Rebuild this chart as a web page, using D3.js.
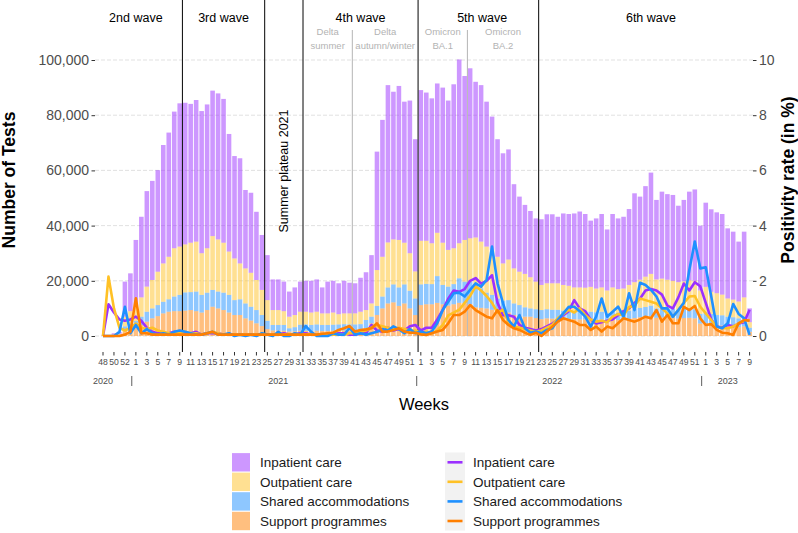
<!DOCTYPE html>
<html>
<head>
<meta charset="utf-8">
<script src="https://cdn.jsdelivr.net/npm/d3@7/dist/d3.min.js"></script>
<style>
  body { margin: 0; background: #fff; }
  svg text { font-family: "Liberation Sans", Arial, Helvetica, sans-serif; }
</style>
</head>
<body>
<svg id="chart" width="798" height="533"></svg>
<script>

// calendar weeks shown on the x axis (2020 w48 -> 2023 w9)
var weeks = [48,49,50,51,52,53,
  1,2,3,4,5,6,7,8,9,10,11,12,13,14,15,16,17,18,19,20,21,22,23,24,25,26,27,28,29,30,31,32,33,34,35,36,37,38,39,40,41,42,43,44,45,46,47,48,49,50,51,52,
  1,2,3,4,5,6,7,8,9,10,11,12,13,14,15,16,17,18,19,20,21,22,23,24,25,26,27,28,29,30,31,32,33,34,35,36,37,38,39,40,41,42,43,44,45,46,47,48,49,50,51,52,
  1,2,3,4,5,6,7,8,9];

var years = ['2020', '2021', '2022', '2023'];
var yearLabelWeek = [0, 32, 82, 114];     // week index the year label sits on
var yearBreaks = [5.25, 57.25, 109.25];    // between last week of a year and first of next

// number of tests (in thousands), per setting
var support = [0,0,0.2,0.3,2.0,2.5,3.0,4.0,5.2,6.4,7.2,8.2,8.8,9.0,9.0,9.2,9.4,9.0,8.5,9.4,10.6,10.0,9.4,8.5,7.6,7.6,6.4,5.6,4.6,3.6,
  2.5,2.0,2.0,1.9,1.6,1.7,1.9,1.9,1.8,1.9,1.8,1.8,1.9,1.9,2.0,2.0,2.0,2.1,2.8,4.6,7.6,10.0,11.8,12.2,10.9,11.8,10.0,7.6,
  11.2,11.5,11.5,12.0,11.5,11.0,11.5,12.0,11.8,11.5,10.4,10.2,10.0,9.5,8.8,8.2,8.5,7.6,7.3,7.0,7.0,6.5,6.1,6.4,6.3,6.3,6.2,6.1,6.1,6.0,
  6.0,5.8,5.8,6.0,5.5,6.0,5.8,5.9,6.2,6.5,6.8,7.0,7.2,6.6,6.8,6.7,6.5,6.3,6.5,6.6,6.4,4.5,4.5,4.2,4.0,3.8,3.5,3.4,3.2,3.5,1.5];
var shared = [0,0,0.1,0.2,1.5,2.0,2.5,3.0,3.6,3.6,4.0,4.2,4.5,5.3,5.9,6.6,6.5,7.1,6.4,6.3,6.1,6.1,6.3,6.4,5.4,5.7,5.4,5.0,4.8,4.0,
  3.0,2.0,2.0,2.1,1.2,1.5,2.2,2.3,2.2,2.3,2.2,2.2,2.2,2.3,2.3,2.2,2.2,2.2,3.0,2.4,3.3,4.3,5.8,6.5,6.7,6.9,6.4,6.0,
  7.5,7.4,7.3,9.7,7.0,6.9,7.3,8.9,7.9,8.2,8.1,7.1,5.7,5.4,4.8,4.6,4.5,4.2,3.9,3.4,3.0,3.2,3.3,3.3,3.2,3.2,3.0,3.1,2.9,3.0,
  3.0,3.0,2.8,2.8,2.7,2.8,2.7,2.7,3.0,3.3,3.4,3.5,3.8,3.4,3.4,3.3,3.3,3.2,3.3,3.4,3.3,3.5,4.1,3.8,3.6,3.7,3.5,3.4,3.2,3.5,1.5];
var outpatient = [0,0,0.2,0.3,3.5,4.5,5.5,7.0,9.1,10.3,12.1,13.9,15.4,17.5,17.5,17.4,17.9,18.1,15.1,16.1,19.5,18.9,18.1,15.7,15.1,13.0,12.7,12.3,10.9,9.1,
  7.5,5.4,5.4,5.0,4.2,4.4,4.7,4.6,4.5,4.6,4.2,4.2,4.4,3.7,3.9,4.0,4.0,4.5,3.6,4.8,13.0,14.4,16.3,16.3,17.2,15.1,13.6,9.8,
  15.8,15.6,14.8,15.7,15.3,13.3,13.0,12.7,15.1,15.7,17.2,16.9,16.7,16.3,15.1,13.5,14.7,12.7,12.1,12.1,11.3,10.0,9.1,9.4,9.6,9.6,9.3,9.0,8.6,8.6,
  8.5,9.0,8.6,8.8,8.3,8.8,8.5,8.6,9.3,9.7,10.2,11.0,11.5,10.5,10.6,10.4,10.2,10.0,10.0,10.2,10.3,8.5,9.2,8.0,7.9,7.5,6.6,6.4,6.1,7.0,2.0];
var inpatient = [0,0,0.5,0.7,12.7,13.7,23.8,29.2,34.6,35.9,36.8,42.9,45.0,49.5,51.9,51.3,50.3,51.3,51.5,52.1,52.7,52.9,52.1,42.6,37.1,38.1,28.4,29.0,24.7,19.9,
  16.3,11.1,11.1,10.7,9.1,10.0,10.9,11.2,11.5,11.7,9.4,11.5,11.5,11.2,11.8,11.1,10.9,12.3,13.7,17.5,42.9,49.6,57.0,53.5,55.8,51.1,55.3,47.9,
  54.6,53.7,52.5,54.1,56.2,54.1,59.4,66.6,59.4,61.6,56.4,56.7,52.5,48.3,42.6,39.9,39.9,30.5,27.2,25.0,24.0,22.9,23.8,25.0,25.0,24.1,25.9,26.0,26.8,27.5,
  26.7,24.0,25.4,26.6,22.1,26.6,25.6,26.0,27.5,32.2,30.1,32.8,36.7,28.8,31.5,31.0,31.1,27.7,29.5,32.1,33.1,23.5,30.5,29.9,29.3,29.2,25.4,24.6,21.7,23.8,5.0];

// positivity rate (in %), per setting
var rateInpatient = [0,1.15,0.85,0.6,0.55,0.6,0.7,0.55,0.3,0.15,0.1,0.1,0.1,0.15,0.1,0.1,0.1,0.15,0.05,0.1,0.1,0.1,0.05,0.05,0.05,0.05,0.05,0.05,0.05,0.05,
  0.05,0.05,0.05,0.1,0.05,0.05,0.1,0.1,0.05,0.05,0.05,0.05,0.05,0.1,0.1,0.05,0.05,0.1,0.1,0.4,0.2,0.15,0.3,0.2,0.25,0.2,0.35,0.4,
  0.2,0.3,0.3,0.6,0.95,1.35,1.65,1.6,1.7,2.0,2.1,1.9,2.0,2.2,1.2,0.75,0.75,0.7,0.4,0.3,0.25,0.2,0.25,0.35,0.45,0.6,0.75,0.9,1.3,1.0,
  0.9,0.6,0.45,0.5,0.55,0.6,0.75,0.9,1.0,1.2,1.35,1.65,1.7,1.65,1.5,1.1,1.0,1.4,1.9,1.65,1.95,1.8,1.2,0.6,0.35,0.3,0.4,0.35,0.45,0.5,0.95];
var rateOutpatient = [0,2.15,1.0,0.3,0.2,0.3,0.45,0.3,0.25,0.3,0.2,0.15,0.1,0.1,0.1,0.15,0.1,0.1,0.05,0.1,0.15,0.1,0.05,0.05,0.05,0.05,0.05,0.05,0.05,0.05,
  0.05,0.05,0.05,0.05,0.05,0.05,0.05,0.05,0.05,0.05,0.05,0.05,0.05,0.05,0.05,0.1,0.1,0.15,0.2,0.3,0.4,0.35,0.3,0.25,0.3,0.25,0.2,0.2,
  0.1,0.15,0.1,0.2,0.4,0.75,0.85,0.95,1.2,1.45,1.8,1.65,1.45,1.2,0.85,0.95,0.5,0.35,0.3,0.25,0.2,0.15,0.2,0.3,0.4,0.65,0.8,0.95,0.85,1.0,
  0.76,0.6,0.52,0.55,0.5,0.7,0.8,0.75,1.05,1.1,1.36,1.3,1.24,1.18,1.0,0.82,0.7,0.94,1.2,1.43,1.45,1.06,0.82,0.58,0.34,0.28,0.28,0.34,0.46,0.55,0.58];
var rateShared = [0,0,0,0.15,1.06,0.1,0.4,0.1,0.25,0.1,0.05,0.1,0.05,0.15,0.2,0.15,0.1,0.05,0.05,0.1,0.15,0.05,0.05,0.1,0,0.05,0,0.05,0,0.1,
  0.05,0,0.15,0,0,0.1,0.05,0.36,0.15,0,0,0,0.1,0.05,0.05,0.3,0.05,0.1,0.05,0.1,0.15,0.25,0.2,0.35,0.25,0.1,0.25,0.1,
  0.16,0.1,0.16,0.46,0.94,1.24,1.55,1.57,1.43,1.67,1.91,1.79,2.03,3.24,1.91,1.18,0.58,0.34,0.76,0.28,0.12,0.16,0.1,0.22,0.28,0.58,0.82,1.06,1.06,0.9,
  0.7,0.34,0.7,1.36,0.7,0.88,1.06,0.7,1.55,0.94,1.93,1.85,1.67,1.43,1.0,1.0,0.7,0.94,1.2,2.39,3.42,2.45,2.49,1.43,0.34,0.28,0.46,1.16,0.8,0.64,0.04];
var rateSupport = [0,0,0,0,0.05,0.15,1.37,0.1,0.1,0.05,0.05,0.05,0.05,0.05,0.05,0.05,0.05,0.05,0.05,0.1,0.15,0.05,0.05,0.05,0.05,0.05,0.05,0.05,0.05,0.05,
  0.05,0.05,0.05,0.05,0.05,0.05,0.05,0.05,0.05,0.05,0.08,0.1,0.12,0.22,0.28,0.36,0.16,0.22,0.24,0.28,0.46,0.16,0.16,0.22,0.28,0.16,0.12,0.12,
  0.06,0.04,0.1,0.16,0.22,0.46,0.76,0.76,0.88,1.12,0.94,0.82,0.7,0.64,0.94,0.58,0.4,0.28,0.22,0.12,0.04,0.12,0,0.16,0.34,0.52,0.64,0.58,0.52,0.4,
  0.4,0.22,0.34,0.16,0.34,0.28,0.46,0.64,0.58,0.52,0.6,0.7,0.64,0.94,0.52,0.76,0.46,0.46,1.06,0.94,1.09,0.64,0.4,0.43,0.22,0.12,0.1,0.04,0.46,0.58,0.55];

var settings = ['Inpatient care', 'Outpatient care', 'Shared accommodations', 'Support programmes'];
var colors = ['#9B30FF', '#FFC125', '#1E90FF', '#FF7F00'];

// pandemic phases
var waveNames = ['2nd wave', '3rd wave', '4th wave', '5th wave', '6th wave'];
var waveCenters = [6, 22, 47, 69.2, 100];
var waveBreaks = [14.5, 29.5, 36.5, 57.5, 79.5];
var variantBreaks = [45.5, 66.5];
var variantNames = [['Delta', 'summer'], ['Delta', 'autumn/winter'], ['Omicron', 'BA.1'], ['Omicron', 'BA.2']];
var variantCenters = [41, 51.5, 62, 73];
var plateauLabel = 'Summer plateau 2021';
var plateauWeek = 33;

var testTicks = [0, 20, 40, 60, 80, 100];
var rateTicks = [0, 2, 4, 6, 8, 10];

var svg = d3.select('#chart');

var x = d3.scaleLinear().domain([0, weeks.length - 1]).range([103, 749.6]);
var step = x(1) - x(0);
var y = d3.scaleLinear().domain([0, 100]).range([336, 60]);
var yRate = d3.scaleLinear().domain([0, 10]).range([336, 60]);
var panelLeft = 95, panelRight = 753;

// grid
svg.append('g')
    .selectAll('line')
    .data(testTicks)
    .enter()
    .append('line')
    .attr('x1', panelLeft)
    .attr('x2', panelRight)
    .attr('y1', function(d){ return y(d); })
    .attr('y2', function(d){ return y(d); })
    .attr('stroke', '#d9d9d9')
    .attr('stroke-width', 0.8)
    .attr('stroke-dasharray', '4,2');

// stacked bars
var rows = weeks.map(function(w, i){
    return {i: i, support: support[i], shared: shared[i], outpatient: outpatient[i], inpatient: inpatient[i]};
});
var keys = ['support', 'shared', 'outpatient', 'inpatient'];
var keyColor = {inpatient: colors[0], outpatient: colors[1], shared: colors[2], support: colors[3]};
var stacked = d3.stack().keys(keys)(rows);

svg.append('g')
    .selectAll('g')
    .data(stacked)
    .enter()
    .append('g')
    .attr('fill', function(s){ return keyColor[s.key]; })
    .attr('fill-opacity', 0.5)
    .selectAll('rect')
    .data(function(s){ return s; })
    .enter()
    .append('rect')
    .attr('x', function(d){ return x(d.data.i) - (step - 0.9) / 2; })
    .attr('width', step - 0.9)
    .attr('y', function(d){ return y(d[1]); })
    .attr('height', function(d){ return Math.max(0, y(d[0]) - y(d[1])); });

// wave separators
svg.append('g')
    .selectAll('line')
    .data(waveBreaks)
    .enter()
    .append('line')
    .attr('x1', function(d){ return x(d); })
    .attr('x2', function(d){ return x(d); })
    .attr('y1', 0)
    .attr('y2', 352)
    .attr('stroke', '#1a1a1a')
    .attr('stroke-width', 1.1);

svg.append('g')
    .selectAll('line')
    .data(variantBreaks)
    .enter()
    .append('line')
    .attr('x1', function(d){ return x(d); })
    .attr('x2', function(d){ return x(d); })
    .attr('y1', 30)
    .attr('y2', 336)
    .attr('stroke', '#b5b5b5')
    .attr('stroke-width', 1);

// positivity lines
var rates = [rateInpatient, rateOutpatient, rateShared, rateSupport];
var line = d3.line()
    .x(function(d, i){ return x(i); })
    .y(function(d){ return yRate(d); });

svg.append('g')
    .selectAll('path')
    .data(rates)
    .enter()
    .append('path')
    .attr('d', line)
    .attr('fill', 'none')
    .attr('stroke', function(d, i){ return colors[i]; })
    .attr('stroke-width', 2.6)
    .attr('stroke-linejoin', 'round');

// wave labels
svg.append('g')
    .selectAll('text')
    .data(waveNames)
    .enter()
    .append('text')
    .attr('x', function(d, i){ return x(waveCenters[i]); })
    .attr('y', 22)
    .attr('text-anchor', 'middle')
    .attr('font-size', 12.5)
    .attr('fill', '#000')
    .text(function(d){ return d; });

var variantText = svg.append('g')
    .selectAll('text')
    .data(variantNames)
    .enter()
    .append('text')
    .attr('text-anchor', 'middle')
    .attr('font-size', 9.5)
    .attr('fill', '#b3b3b3');
variantText.append('tspan')
    .attr('x', function(d, i){ return x(variantCenters[i]); })
    .attr('y', 35)
    .text(function(d){ return d[0]; });
variantText.append('tspan')
    .attr('x', function(d, i){ return x(variantCenters[i]); })
    .attr('y', 49)
    .text(function(d){ return d[1]; });

svg.append('text')
    .attr('transform', 'translate(' + (x(plateauWeek) + 4.5) + ',171) rotate(-90)')
    .attr('text-anchor', 'middle')
    .attr('font-size', 12.5)
    .attr('fill', '#000')
    .text(plateauLabel);

// left axis
var yAxis = d3.axisLeft(y)
    .tickValues(testTicks)
    .tickSize(3.5)
    .tickPadding(2.5)
    .tickFormat(function(d){ return d3.format(',')(d * 1000); });
var gy = svg.append('g').attr('transform', 'translate(' + panelLeft + ',0)').call(yAxis);
gy.select('.domain').remove();
gy.selectAll('line').attr('stroke', '#333');
gy.selectAll('text').attr('font-size', 14).attr('fill', '#4d4d4d').attr('font-family', '"Liberation Sans", Arial, sans-serif');

// right axis
var yAxisR = d3.axisRight(yRate)
    .tickValues(rateTicks)
    .tickSize(3.5)
    .tickPadding(2.5);
var gr = svg.append('g').attr('transform', 'translate(' + panelRight + ',0)').call(yAxisR);
gr.select('.domain').remove();
gr.selectAll('line').attr('stroke', '#333');
gr.selectAll('text').attr('font-size', 14).attr('fill', '#4d4d4d').attr('font-family', '"Liberation Sans", Arial, sans-serif');

// bottom axis: every second week
var xAxis = svg.append('g');
var labelled = weeks.map(function(w, i){ return {w: w, i: i}; }).filter(function(d){ return d.i % 2 === 0; });
xAxis.selectAll('line')
    .data(labelled)
    .enter()
    .append('line')
    .attr('x1', function(d){ return x(d.i); })
    .attr('x2', function(d){ return x(d.i); })
    .attr('y1', 352)
    .attr('y2', 355.5)
    .attr('stroke', '#333')
    .attr('stroke-width', 1);
xAxis.selectAll('text')
    .data(labelled)
    .enter()
    .append('text')
    .attr('x', function(d){ return x(d.i); })
    .attr('y', 365)
    .attr('text-anchor', 'middle')
    .attr('font-size', 8.6)
    .attr('fill', '#4d4d4d')
    .text(function(d){ return d.w; });

svg.append('g')
    .selectAll('text')
    .data(years)
    .enter()
    .append('text')
    .attr('x', function(d, i){ return x(yearLabelWeek[i]); })
    .attr('y', 384)
    .attr('text-anchor', 'middle')
    .attr('font-size', 9)
    .attr('fill', '#4d4d4d')
    .text(function(d){ return d; });

svg.append('g')
    .selectAll('line')
    .data(yearBreaks)
    .enter()
    .append('line')
    .attr('x1', function(d){ return x(d); })
    .attr('x2', function(d){ return x(d); })
    .attr('y1', 376)
    .attr('y2', 386)
    .attr('stroke', '#4d4d4d')
    .attr('stroke-width', 0.9);

// axis titles
svg.append('text')
    .attr('x', 424)
    .attr('y', 410)
    .attr('text-anchor', 'middle')
    .attr('font-size', 16.5)
    .attr('fill', '#000')
    .text('Weeks');

svg.append('text')
    .attr('transform', 'translate(15,180) rotate(-90)')
    .attr('text-anchor', 'middle')
    .attr('font-size', 17.5)
    .attr('font-weight', 'bold')
    .attr('fill', '#000')
    .text('Number of Tests');

svg.append('text')
    .attr('transform', 'translate(794,180) rotate(-90)')
    .attr('text-anchor', 'middle')
    .attr('font-size', 17.5)
    .attr('font-weight', 'bold')
    .attr('fill', '#000')
    .text('Positivity rate (in %)');

// legends
var legendY = [462.3, 481.8, 501.4, 521];

var legBars = svg.append('g');
legBars.selectAll('rect')
    .data(settings)
    .enter()
    .append('rect')
    .attr('x', 232)
    .attr('y', function(d, i){ return legendY[i] - 9.2; })
    .attr('width', 18)
    .attr('height', 18.4)
    .attr('fill', function(d, i){ return colors[i]; })
    .attr('fill-opacity', 0.5);
legBars.selectAll('text')
    .data(settings)
    .enter()
    .append('text')
    .attr('x', 260)
    .attr('y', function(d, i){ return legendY[i] + 4.8; })
    .attr('font-size', 13.5)
    .attr('fill', '#1a1a1a')
    .text(function(d){ return d; });

var legLines = svg.append('g');
legLines.append('rect')
    .attr('x', 445)
    .attr('y', 452.5)
    .attr('width', 20)
    .attr('height', 78)
    .attr('fill', '#f2f2f2');
legLines.selectAll('line')
    .data(settings)
    .enter()
    .append('line')
    .attr('x1', 447.5)
    .attr('x2', 462.5)
    .attr('y1', function(d, i){ return legendY[i]; })
    .attr('y2', function(d, i){ return legendY[i]; })
    .attr('stroke', function(d, i){ return colors[i]; })
    .attr('stroke-width', 2.6);
legLines.selectAll('text')
    .data(settings)
    .enter()
    .append('text')
    .attr('x', 473)
    .attr('y', function(d, i){ return legendY[i] + 4.8; })
    .attr('font-size', 13.5)
    .attr('fill', '#1a1a1a')
    .text(function(d){ return d; });

</script>
</body>
</html>
